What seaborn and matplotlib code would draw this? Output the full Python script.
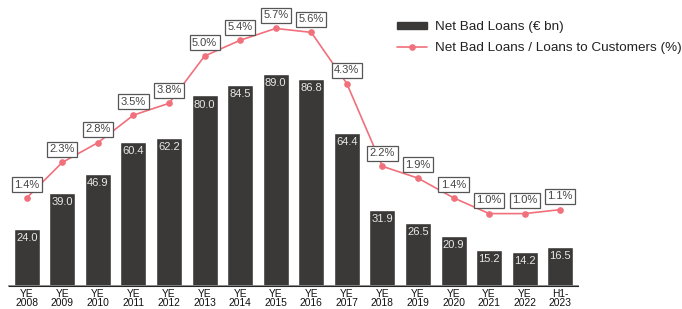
import numpy as np
import matplotlib
matplotlib.use('Agg')
import matplotlib.pyplot as plt
import seaborn as sns
from matplotlib.patches import Patch
from matplotlib.lines import Line2D

periods = ['YE\n2008', 'YE\n2009', 'YE\n2010', 'YE\n2011', 'YE\n2012', 'YE\n2013', 'YE\n2014', 'YE\n2015',
           'YE\n2016', 'YE\n2017', 'YE\n2018', 'YE\n2019', 'YE\n2020', 'YE\n2021', 'YE\n2022', 'H1-\n2023']
net_bad_loans = [24.0, 39.0, 46.9, 60.4, 62.2, 80.0, 84.5, 89.0, 86.8, 64.4, 31.9, 26.5, 20.9, 15.2, 14.2, 16.5]
ratio_pct = [1.4, 2.3, 2.8, 3.5, 3.8, 5.0, 5.4, 5.7, 5.6, 4.3, 2.2, 1.9, 1.4, 1.0, 1.0, 1.1]

bar_color = '#3a3938'
line_color = '#f0707c'

sns.set_style('white')
plt.rcParams['font.family'] = ['Liberation Sans', 'DejaVu Sans']

fig = plt.figure(figsize=(6.82, 3.09), dpi=100)
ax = fig.add_axes([9 / 682, 23 / 309, 569 / 682, 276 / 309])

sns.barplot(x=periods, y=net_bad_loans, color=bar_color, saturation=1, width=0.73, ax=ax)
ax.set_xlim(-0.5, len(periods) - 0.5)
ax.set_ylim(0, 115.9)

for i, v in enumerate(net_bad_loans):
    ax.annotate(f'{v:.1f}', (i, v), xytext=(0, -6.5), textcoords='offset points',
                ha='center', va='center', fontsize=8, color='#e8e8e8')

ax2 = ax.twinx()
sns.lineplot(x=np.arange(len(ratio_pct)), y=ratio_pct, color=line_color, marker='o',
             markersize=4.8, markeredgewidth=0, linewidth=1.2, ax=ax2)
ax2.set_ylim(-0.838, 6.168)

for i, v in enumerate(ratio_pct):
    ax2.annotate(f'{v:.1f}%', (i, v), xytext=(0, 9.5), textcoords='offset points',
                 ha='center', va='center', fontsize=8, color='#444444',
                 bbox=dict(boxstyle='square,pad=0.22', fc='white', ec='#555555', lw=0.9))

for a in (ax, ax2):
    for s in ['top', 'left', 'right']:
        a.spines[s].set_visible(False)
    a.set_yticks([])
    a.set_ylabel('')
ax.spines['bottom'].set_color('#8a8a8a')
ax.spines['bottom'].set_linewidth(1.3)
ax.tick_params(axis='x', length=0, pad=2.5, labelsize=7.4, labelcolor='#111111')
plt.setp(ax.get_xticklabels(), linespacing=0.85)

handles = [Patch(color=bar_color),
           Line2D([0], [0], color=line_color, marker='o', markersize=4.8, markeredgewidth=0, lw=1.2)]
fig.legend(handles, ['Net Bad Loans (€ bn)', 'Net Bad Loans / Loans to Customers (%)'],
           loc='upper left', bbox_to_anchor=(385 / 682, 1 - 9 / 309), frameon=False,
           fontsize=9.7, handlelength=2.2, handleheight=0.5, labelspacing=0.65, handletextpad=0.6,
           labelcolor='#222222')

fig.savefig('out.png', dpi=100)
